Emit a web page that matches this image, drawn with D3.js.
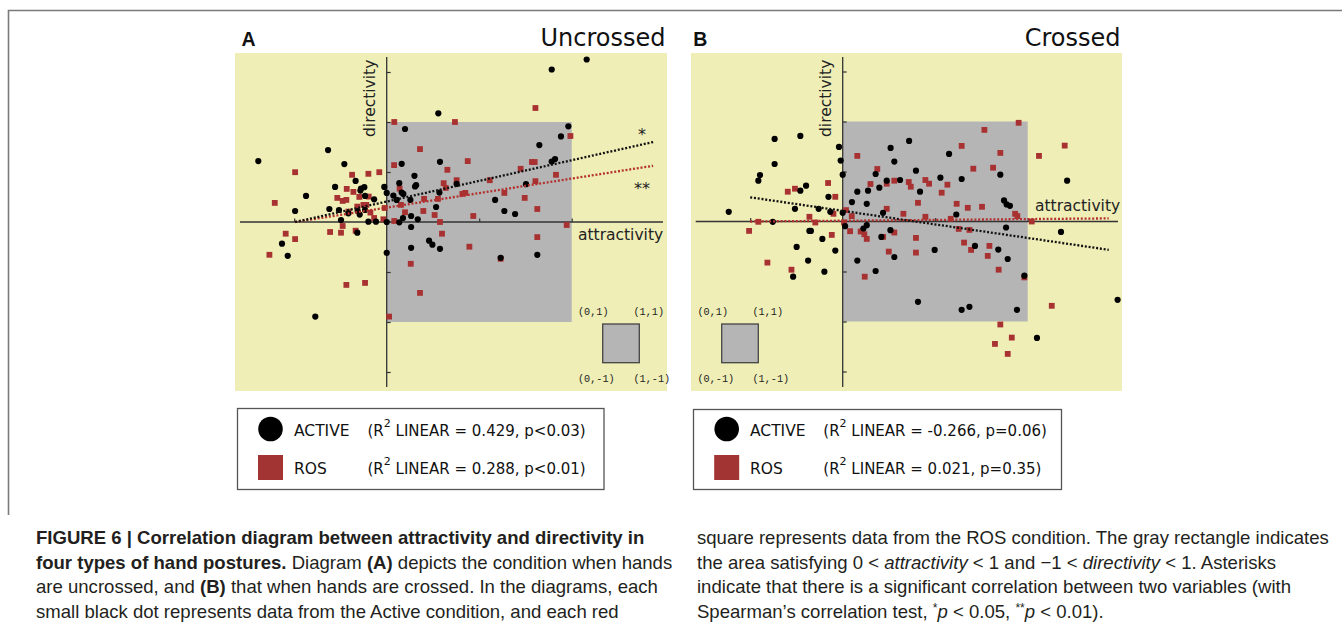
<!DOCTYPE html>
<html><head><meta charset="utf-8">
<script src="https://cdn.jsdelivr.net/npm/d3@7"></script>
<style>body{margin:0;background:#fff} svg{display:block}</style>
</head><body>
<svg id="fig" width="1342" height="629"></svg>
<script>
// ---------- DATA (attractivity, directivity) ----------
const uncrossedActive = [
[1.081,1.625],[0.892,1.525],[0.279,1.087],[0.099,0.930],[0.982,0.957],[0.942,0.856],[0.825,0.769],[0.910,0.629],[0.892,0.605],
[-0.694,0.609],[-0.317,0.719],[-0.229,0.579],[0.081,0.582],[0.288,0.602],[0.150,0.462],[-0.168,0.411],[-0.436,0.261],[-0.495,0.110],
[-0.279,0.351],[-0.139,0.334],[-0.121,0.348],[-0.142,0.314],[-0.117,0.261],[-0.068,0.227],[-0.013,0.351],[0.000,0.291],[0.068,0.388],[0.081,0.294],
[0.036,0.264],[0.054,0.221],[0.090,0.281],[0.153,0.355],[0.159,0.368],[0.128,0.221],[0.285,0.294],[0.378,0.381],[0.267,0.150],
[-0.310,0.130],[-0.258,0.120],[-0.207,0.087],[-0.157,0.110],[-0.117,0.120],[-0.146,0.074],[-0.247,0.020],[-0.099,0.003],[-0.058,0.003],[0.000,0.000],
[0.068,-0.003],[0.088,0.040],[0.132,0.060],[0.168,0.027],[0.132,-0.050],[-0.159,-0.107],[-0.566,-0.217],[-0.535,-0.338],[0.000,-0.308],
[0.132,-0.258],[0.229,-0.187],[0.247,-0.227],[0.288,-0.268],[0.586,0.221],[0.636,0.110],[0.694,0.080],[0.753,0.378],[0.616,-0.358],[0.814,-0.328],[-0.386,-0.946]
];
const uncrossedROS = [
[0.804,1.140],[0.041,1.000],[0.369,1.000],[0.993,0.860],[0.180,0.729],[0.040,0.569],[0.438,0.609],[0.785,0.600],[0.800,0.600],[0.328,0.522],
[-0.495,0.498],[-0.187,0.472],[-0.099,0.482],[-0.040,0.498],[0.915,0.472],[0.724,0.532],[0.557,0.418],[0.378,0.418],[0.308,0.388],[0.804,0.408],
[0.319,0.341],[0.636,0.291],[0.425,0.291],[0.409,0.281],[0.746,0.241],[-0.605,0.191],[-0.216,0.331],[-0.180,0.301],[-0.267,0.241],[-0.238,0.211],
[-0.218,0.221],[-0.148,0.251],[-0.126,0.171],[-0.110,0.171],[-0.097,0.254],[-0.207,0.104],[-0.159,0.154],[-0.088,0.094],[-0.068,0.040],[-0.018,0.027],
[-0.011,0.140],[0.070,0.334],[0.077,0.171],[0.099,0.097],[0.198,0.110],[0.202,0.231],[0.277,0.231],[0.259,0.070],[0.288,0.000],[0.041,0.010],
[0.468,0.060],[0.814,0.130],[0.973,-0.030],[-0.546,-0.117],[-0.495,-0.171],[-0.634,-0.328],[-0.306,-0.100],[-0.247,-0.107],[-0.238,-0.040],[-0.168,-0.087],
[0.299,-0.117],[0.447,-0.247],[0.814,-0.151],[0.616,-0.368],[0.130,-0.418],[-0.218,-0.629],[-0.117,-0.609],[0.180,-0.709],[0.013,-0.946]
];
const crossedActive = [
[-0.616,0.097],[-0.368,0.826],[-0.229,0.856],[-0.368,0.575],[-0.447,0.465],[-0.456,0.408],[-0.229,0.308],[-0.198,0.358],[-0.258,0.127],[-0.378,-0.003],
[-0.130,0.127],[-0.077,0.247],[-0.020,0.746],[-0.011,0.609],[0.000,0.468],[-0.067,0.097],[0.000,0.087],[-0.180,-0.094],[-0.172,-0.094],[-0.110,-0.174],
[-0.040,-0.291],[-0.249,-0.254],[-0.187,-0.391],[-0.268,-0.552],[-0.099,-0.502],[0.013,-0.047],[0.050,0.194],[0.079,0.298],[0.130,0.177],[0.137,0.308],
[0.198,0.338],[0.178,0.475],[0.238,0.408],[0.310,0.415],[0.259,0.736],[0.279,0.599],[0.359,0.806],[0.396,0.508],[0.418,0.298],[0.218,0.087],
[0.130,-0.037],[0.112,-0.070],[0.209,-0.154],[0.258,-0.087],[0.279,-0.355],[0.079,-0.391],[0.178,-0.495],[0.407,-0.803],[0.497,-0.284],[0.528,0.438],
[0.575,0.676],[0.643,0.425],[0.614,0.070],[0.715,-0.244],[0.643,-0.883],[0.685,-0.853],[0.852,0.468],[0.872,0.211],[0.886,0.171],[0.904,0.157],
[0.883,-0.060],[0.841,-0.281],[0.892,-0.375],[0.982,-0.542],[0.942,-0.883],[1.213,0.408],[1.180,-0.104],[1.486,-0.783],[1.050,-1.164]
];
const crossedROS = [
[0.951,0.987],[0.766,0.916],[0.643,0.756],[0.852,0.686],[1.200,0.759],[1.061,0.656],[0.079,0.656],[0.187,0.525],[0.706,0.528],[0.813,0.538],
[-0.079,0.385],[-0.258,0.328],[-0.297,0.298],[-0.040,0.247],[0.150,0.375],[0.238,0.378],[0.279,0.408],[0.357,0.395],[0.368,0.348],[0.447,0.415],
[0.467,0.378],[0.566,0.368],[0.535,0.288],[0.407,0.187],[0.238,0.127],[0.328,0.077],[0.447,0.047],[0.584,0.027],[0.616,0.177],[0.676,0.137],
[0.753,0.147],[0.932,0.077],[0.944,0.054],[1.022,0.000],[-0.180,0.047],[-0.148,-0.010],[-0.050,0.077],[0.018,0.114],[0.007,-0.010],[0.049,0.054],
[-0.456,-0.003],[-0.506,-0.094],[-0.059,-0.134],[0.040,-0.097],[0.097,-0.100],[0.117,-0.127],[0.130,-0.174],[0.218,-0.154],[0.279,-0.110],[0.396,-0.164],
[0.249,-0.301],[0.396,-0.311],[0.627,-0.074],[0.685,-0.084],[0.656,-0.211],[0.694,-0.284],[0.793,-0.244],[0.784,-0.344],[0.843,-0.482],[0.982,-0.559],
[-0.407,-0.411],[-0.277,-0.482],[0.119,-0.552],[1.130,-0.843],[0.852,-1.030],[0.823,-1.224],[0.914,-1.161],[0.892,-1.324]
];
// regression lines (endpoints)
const uncrossedTrendActive = [[-0.495,0.000],[1.441,0.800]];
const uncrossedTrendROS    = [[-0.495,0.000],[1.440,0.562]];
const crossedTrendActive   = [[-0.500,0.242],[1.438,-0.283]];
const crossedTrendROS      = [[-0.500,0.000],[1.438,0.031]];

const yTicks = [-1.5,-1,-0.5,0.5,1,1.5];
const xTicks = [-0.5,0.5,1];
const insetLabels = ["(0,1)","(1,1)","(0,-1)","(1,-1)"];
const legendNames = ["ACTIVE","ROS"];
const uncrossedStats = ["0.429, p<0.03","0.288, p<0.01"];
const crossedStats = ["-0.266, p=0.06","0.021, p=0.35"];

const captionLeft = [
 [{t:"FIGURE 6 | Correlation diagram between attractivity and directivity in",b:1}],
 [{t:"four types of hand postures.",b:1},{t:" Diagram "},{t:"(A)",b:1},{t:" depicts the condition when hands"}],
 [{t:"are uncrossed, and "},{t:"(B)",b:1},{t:" that when hands are crossed. In the diagrams, each"}],
 [{t:"small black dot represents data from the Active condition, and each red"}]
];
const captionRight = [
 [{t:"square represents data from the ROS condition. The gray rectangle indicates"}],
 [{t:"the area satisfying 0 < "},{t:"attractivity",i:1},{t:" < 1 and \u22121 < "},{t:"directivity",i:1},{t:" < 1. Asterisks"}],
 [{t:"indicate that there is a significant correlation between two variables (with"}],
 [{t:"Spearman\u2019s correlation test, "},{t:"*",s:1},{t:"p",i:1},{t:" < 0.05, "},{t:"**",s:1},{t:"p",i:1},{t:" < 0.01)."}]
];

// ---------- STYLE / LAYOUT ----------
const YELLOW = "#efeeb7", GRAY = "#b5b5b5", RED = "#a83131", AXIS = "#333";
const SANS = "'DejaVu Sans', Verdana, sans-serif";
const svg = d3.select("#fig");

// outer frame
svg.append("path").attr("d","M8.5,515 V10.5 H1342").attr("fill","none").attr("stroke","#7a7a7a").attr("stroke-width",1.6);

const panels = [
 {letter:"A", title:"Uncrossed", ox:386.7, oy:222, bg:[235,53,667,391], xExt:[240,663],
  active:uncrossedActive, ros:uncrossedROS, tA:uncrossedTrendActive, tR:uncrossedTrendROS,
  attrPos:[578,240], dirPos:[375,137], inset:[602.7,324], insetLab:[578,633.5], stars:true,
  legend:{x:237.5,y:408.5,w:366.5,h:81, cx:270.5, tx:294, sx:367.5}, stats:uncrossedStats},
 {letter:"B", title:"Crossed", ox:842.7, oy:221.5, bg:[691,53,1122,391], xExt:[695.7,1118],
  active:crossedActive, ros:crossedROS, tA:crossedTrendActive, tR:crossedTrendROS,
  attrPos:[1035,211], dirPos:[831,137], inset:[721.7,324], insetLab:[697.5,752.5], stars:false,
  legend:{x:693.5,y:409.5,w:368,h:80, cx:726.7, tx:750, sx:823.3}, stats:crossedStats}
];

panels.forEach(p => {
  const g = svg.append("g");
  const x = d3.scaleLinear().domain([0,1]).range([p.ox, p.ox+185]);
  const y = d3.scaleLinear().domain([0,1]).range([p.oy, p.oy-100]);
  g.append("rect").attr("x",p.bg[0]).attr("y",p.bg[1]).attr("width",p.bg[2]-p.bg[0]).attr("height",p.bg[3]-p.bg[1]).attr("fill",YELLOW);
  g.append("rect").attr("x",x(0)).attr("y",y(1)).attr("width",x(1)-x(0)).attr("height",y(-1)-y(1)).attr("fill",GRAY);
  const ya = g.append("g").attr("transform",`translate(${p.ox},0)`)
    .call(d3.axisRight(y).tickValues(yTicks).tickSize(4).tickFormat(""));
  ya.select(".domain").remove();
  ya.selectAll("line").attr("stroke",AXIS).attr("stroke-width",1.2);
  const xa = g.append("g").attr("transform",`translate(0,${p.oy})`)
    .call(d3.axisTop(x).tickValues(xTicks).tickSize(3.5).tickFormat(""));
  xa.select(".domain").remove();
  xa.selectAll("line").attr("stroke",AXIS).attr("stroke-width",1.2);
  g.append("line").attr("x1",p.ox).attr("x2",p.ox).attr("y1",57).attr("y2",387).attr("stroke",AXIS).attr("stroke-width",1.3);
  g.append("line").attr("x1",p.xExt[0]).attr("x2",p.xExt[1]).attr("y1",p.oy).attr("y2",p.oy).attr("stroke",AXIS).attr("stroke-width",1.3);
  g.append("text").attr("x",p.attrPos[0]).attr("y",p.attrPos[1]).text("attractivity")
    .attr("font-family",SANS).attr("font-size",15.5).attr("fill","#222");
  g.append("text").attr("transform",`translate(${p.dirPos[0]},${p.dirPos[1]}) rotate(-90)`).text("directivity")
    .attr("font-family",SANS).attr("font-size",15.5).attr("fill","#222");
  const s = 5.8;
  g.append("g").selectAll("rect").data(p.ros).join("rect")
    .attr("x",d=>x(d[0])-s/2).attr("y",d=>y(d[1])-s/2).attr("width",s).attr("height",s).attr("fill",RED);
  g.append("g").selectAll("circle").data(p.active).join("circle")
    .attr("cx",d=>x(d[0])).attr("cy",d=>y(d[1])).attr("r",3.1).attr("fill","#000");
  const line = d3.line().x(d=>x(d[0])).y(d=>y(d[1]));
  g.append("path").attr("d",line(p.tR)).attr("stroke","#b3302c").attr("stroke-width",2.3).attr("stroke-dasharray","2,1.8").attr("fill","none");
  g.append("path").attr("d",line(p.tA)).attr("stroke","#111").attr("stroke-width",2.3).attr("stroke-dasharray","2,1.8").attr("fill","none");
  if (p.stars) {
    g.append("text").attr("x",642).attr("y",140).attr("text-anchor","middle").text("*").attr("font-family",SANS).attr("font-size",16).attr("fill","#222");
    g.append("text").attr("x",642).attr("y",194).attr("text-anchor","middle").text("**").attr("font-family",SANS).attr("font-size",16).attr("fill","#222");
  }
  g.append("rect").attr("x",p.inset[0]).attr("y",p.inset[1]).attr("width",36.6).attr("height",38.7)
    .attr("fill",GRAY).attr("stroke","#444").attr("stroke-width",1.3);
  const lp = [[p.insetLab[0],315],[p.insetLab[1],315],[p.insetLab[0],382],[p.insetLab[1],382]];
  g.selectAll("text.inl").data(insetLabels).join("text").attr("class","inl")
    .attr("x",(d,i)=>lp[i][0]).attr("y",(d,i)=>lp[i][1]).text(d=>d)
    .attr("font-family","'Liberation Mono', 'Courier New', monospace").attr("font-size",10.2).attr("fill","#222");
  g.append("text").attr("x",p.bg[0]+ (p.letter==="A"?6.5:2.3)).attr("y",46).text(p.letter)
    .attr("font-family","'Liberation Sans', Arial, sans-serif").attr("font-weight","bold").attr("font-size",19.5).attr("fill","#111");
  g.append("text").attr("x",p.bg[2]-1.5).attr("y",46).attr("text-anchor","end").text(p.title)
    .attr("font-family",SANS).attr("font-size",24).attr("fill","#111");
  const L = p.legend;
  const lg = svg.append("g");
  lg.append("rect").attr("x",L.x).attr("y",L.y).attr("width",L.w).attr("height",L.h).attr("fill","#fff").attr("stroke","#555").attr("stroke-width",1.3);
  lg.append("circle").attr("cx",L.cx).attr("cy",429).attr("r",12.3).attr("fill","#000");
  lg.append("rect").attr("x",L.cx-12.5).attr("y",455).attr("width",25).attr("height",25).attr("fill","#a33434");
  const rowsY = [436,474];
  legendNames.forEach((nm,i) => {
    lg.append("text").attr("x",L.tx).attr("y",rowsY[i]).text(nm).attr("font-family",SANS).attr("font-size",15.5).attr("fill","#111");
    const t = lg.append("text").attr("x",L.sx).attr("y",rowsY[i]).attr("font-family",SANS).attr("font-size",15).attr("fill","#111");
    t.append("tspan").text("(R");
    t.append("tspan").attr("dy",-9).attr("font-size",11).text("2");
    t.append("tspan").attr("dy",9).text(" LINEAR = " + p.stats[i] + ")");
  });
});

// ---------- CAPTION ----------
const CAP = "'Liberation Sans', Arial, sans-serif";
function capLine(x, yy, segs) {
  const t = svg.append("text").attr("x",x).attr("y",yy).attr("font-family",CAP).attr("font-size",18.5).attr("fill","#231f20");
  let shifted = false;
  segs.forEach(sg => {
    const ts = t.append("tspan").text(sg.t);
    if (sg.b) ts.attr("font-weight","bold");
    if (sg.i) ts.attr("font-style","italic");
    if (sg.s) { ts.attr("font-size",12).attr("dy",-6); shifted = true; }
    else if (shifted) { ts.attr("dy",6); shifted = false; }
  });
  return t;
}
const capY = [544, 568.5, 593, 617.5];
const left = captionLeft.map((l,i)=>capLine(36, capY[i], l));
const right = captionRight.map((l,i)=>capLine(697, capY[i], l));
const k = ((632 / left[1].node().getComputedTextLength()) + (636 / right[0].node().getComputedTextLength())) / 2;
left.concat(right).forEach(t => {
  const w = t.node().getComputedTextLength();
  t.attr("textLength", w*k).attr("lengthAdjust","spacingAndGlyphs");
});
</script>
</body></html>
